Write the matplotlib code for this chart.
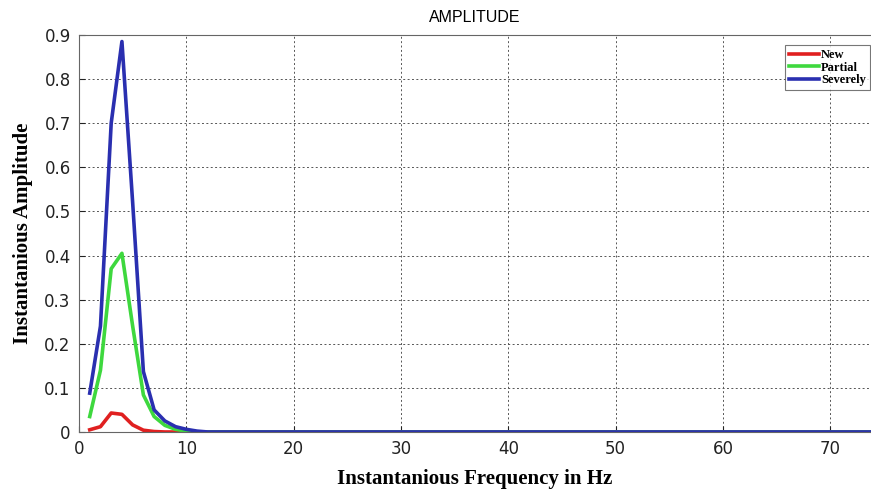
import matplotlib.pyplot as plt
from matplotlib.ticker import FixedLocator

freq = [1, 2, 3, 4, 5, 6, 7, 8, 9, 10, 11, 12, 74]
new = [0.005, 0.012, 0.043, 0.040, 0.016, 0.004, 0.001, 0.0, 0.0, 0.0, 0.0, 0.0, 0.0]
partial = [0.035, 0.14, 0.37, 0.405, 0.24, 0.084, 0.035, 0.015, 0.006, 0.002, 0.0, 0.0, 0.0]
severely = [0.088, 0.24, 0.70, 0.885, 0.52, 0.137, 0.05, 0.025, 0.012, 0.006, 0.002, 0.0, 0.0]
series = [('New', new, '#e02020'), ('Partial', partial, '#3ed83e'), ('Severely', severely, '#2a2fb0')]

fig = plt.figure(figsize=(8.71, 4.92), dpi=100, facecolor='white')
ax = fig.add_axes([0.0907, 0.122, 0.9093, 0.807])
for name, vals, col in series:
    ax.plot(freq, vals, color=col, lw=2.6, label=name)

ax.set_xlim(0, 73.8)
ax.set_ylim(0, 0.9)
ax.xaxis.set_major_locator(FixedLocator(range(0, 71, 10)))
ax.yaxis.set_major_locator(FixedLocator([i / 10 for i in range(10)]))
ax.yaxis.set_major_formatter(plt.FuncFormatter(lambda v, p: '0' if v == 0 else f'{v:.1f}'))
ax.grid(True, color='#555555', ls=(0, (2, 2.5)), lw=0.7)
ax.tick_params(direction='in', length=4, labelsize=12, colors='#222222', pad=6)
for s in ax.spines.values():
    s.set_color('#666666')
    s.set_linewidth(0.8)
ax.spines['right'].set_visible(False)

ax.set_title('AMPLITUDE', fontsize=11.5, family='Liberation Sans', pad=9)
ax.set_xlabel('Instantanious Frequency in Hz', family='Liberation Serif', weight='bold', fontsize=15, labelpad=8)
ax.set_ylabel('Instantanious Amplitude', family='Liberation Serif', weight='bold', fontsize=15, labelpad=8)

leg = ax.legend(loc='upper right', bbox_to_anchor=(1.006, 0.99), prop={'family': 'Liberation Serif', 'weight': 'bold', 'size': 9},
                handlelength=2.4, handletextpad=0.15, labelspacing=0.05, borderpad=0.3, fancybox=False, edgecolor='#555555')
leg.get_frame().set_linewidth(0.8)

fig.savefig('out.png', dpi=100, facecolor='white')
